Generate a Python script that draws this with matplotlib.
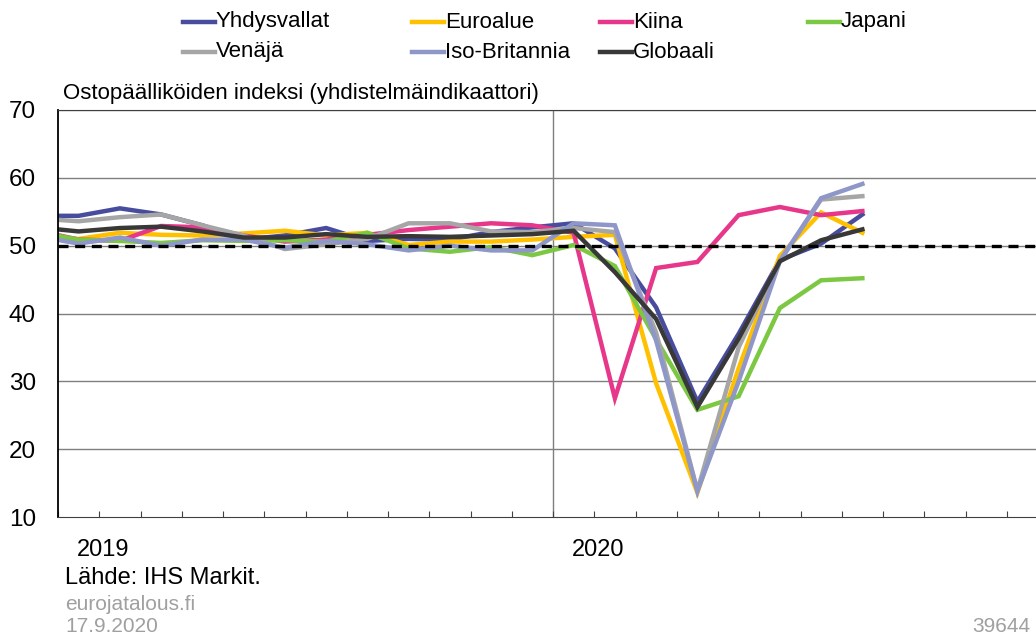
import numpy as np
import matplotlib
matplotlib.use("Agg")
import matplotlib.pyplot as plt
from matplotlib.lines import Line2D

plt.rcParams['font.family'] = ['Liberation Sans', 'DejaVu Sans']

# months from Dec 2018 to Aug 2020, plotted mid-month (Jan 2019 = 0..1)
months = np.arange(21) - 0.5

series_names = ["Yhdysvallat", "Euroalue", "Kiina", "Japani",
                "Venäjä", "Iso-Britannia", "Globaali"]
usa = [54.4, 54.4, 55.5, 54.6, 53.0, 50.9, 51.5, 52.6, 50.7, 51.0, 50.9,
       52.0, 52.7, 53.3, 49.6, 40.9, 27.0, 37.0, 47.9, 50.3, 54.6]
euro = [51.1, 51.0, 51.9, 51.6, 51.5, 51.8, 52.2, 51.5, 51.9, 50.1, 50.6,
        50.6, 50.9, 51.3, 51.6, 29.7, 13.6, 31.9, 48.5, 54.9, 51.9]
china = [52.2, 50.9, 50.7, 52.9, 52.7, 51.5, 50.6, 50.9, 51.6, 52.3, 52.8,
         53.3, 53.0, 51.9, 27.5, 46.7, 47.6, 54.5, 55.7, 54.5, 55.1]
japan = [52.0, 50.9, 50.7, 50.4, 50.8, 50.7, 50.8, 50.6, 51.9, 49.6, 49.1,
         49.8, 48.6, 50.1, 47.0, 36.2, 25.8, 27.8, 40.8, 44.9, 45.2]
russia = [54.0, 53.6, 54.2, 54.6, 53.0, 51.5, 49.5, 50.2, 51.0, 53.3, 53.3,
          52.1, 52.0, 52.6, 52.0, 37.2, 13.9, 35.0, 47.8, 56.8, 57.3]
uk = [51.4, 50.3, 51.2, 50.0, 50.9, 50.9, 49.7, 50.7, 50.2, 49.3, 50.0,
      49.3, 49.3, 53.3, 53.0, 36.0, 13.8, 30.0, 47.7, 57.0, 59.1]
world = [52.7, 52.1, 52.6, 52.8, 52.1, 51.2, 51.2, 51.7, 51.3, 51.4, 51.3,
         51.5, 51.7, 52.2, 46.1, 39.2, 26.2, 36.3, 47.7, 50.8, 52.4]
all_series = [usa, euro, china, japan, russia, uk, world]
colors = ["#474c9e", "#ffc000", "#e6378a", "#7cc843",
          "#a6a6a6", "#8e97c8", "#383838"]

year_labels = ["2019", "2020"]
y_ticks = [10, 20, 30, 40, 50, 60, 70]

fig = plt.figure(figsize=(10.36, 6.38), dpi=100)
ax = fig.add_axes([58/1036, 121/638, 990/1036, 407/638])

for vals, c, name in zip(all_series, colors, series_names):
    ax.plot(months, vals, color=c, lw=3.2, solid_joinstyle='miter', label=name)

ax.axhline(50, color='black', lw=2.4, ls=(0, (3, 2)), zorder=5)
ax.axvline(12, color='#7f7f7f', lw=1.0, zorder=1)
for yv in y_ticks[1:]:
    ax.axhline(yv, color='#7f7f7f', lw=1.0, zorder=0)

ax.set_xlim(0, 24)
ax.set_ylim(10, 70)
ax.set_yticks(y_ticks)
ax.set_yticklabels([str(v) for v in y_ticks], fontsize=17.5)
ax.tick_params(axis='y', length=0, pad=16)
ax.set_xticks(np.arange(0, 25))
ax.set_xticklabels([])
ax.tick_params(axis='x', direction='in', length=4, color='#404040')
for i, lab in enumerate(year_labels):
    ax.text(12*i + 0.45, -0.055, lab, transform=ax.get_xaxis_transform(),
            ha='left', va='top', fontsize=17)

ax.spines['left'].set_color('black')
ax.spines['left'].set_linewidth(1.3)
ax.spines['bottom'].set_color('#404040')
ax.spines['top'].set_color('#404040')
ax.spines['right'].set_visible(False)

# legend drawn by hand: two rows, four columns
leg_x = [183, 412, 600, 808]
leg_y = [22, 52]
for i, (name, c) in enumerate(zip(series_names, colors)):
    row, col = divmod(i, 4)
    x0 = leg_x[col] / 1036
    y0 = 1 - leg_y[row] / 638
    fig.add_artist(Line2D([x0, x0 + 32/1036], [y0, y0], color=c, lw=3.2))
    fig.text(x0 + 33/1036, y0, name, fontsize=16, va='center', ha='left')

fig.text(63/1036, 1 - 93/638, "Ostopäälliköiden indeksi (yhdistelmäindikaattori)",
         fontsize=16, va='center', ha='left')

fig.text(65/1036, 1 - 578/638, "Lähde: IHS Markit.", fontsize=17,
         va='center', ha='left')
fig.text(65/1036, 1 - 605/638, "eurojatalous.fi", fontsize=15,
         va='center', ha='left', color='#a0a0a0')
fig.text(65/1036, 1 - 627/638, "17.9.2020", fontsize=15,
         va='center', ha='left', color='#a0a0a0')
fig.text(1030/1036, 1 - 627/638, "39644", fontsize=15,
         va='center', ha='right', color='#a0a0a0')

fig.savefig("out.png", dpi=100)
